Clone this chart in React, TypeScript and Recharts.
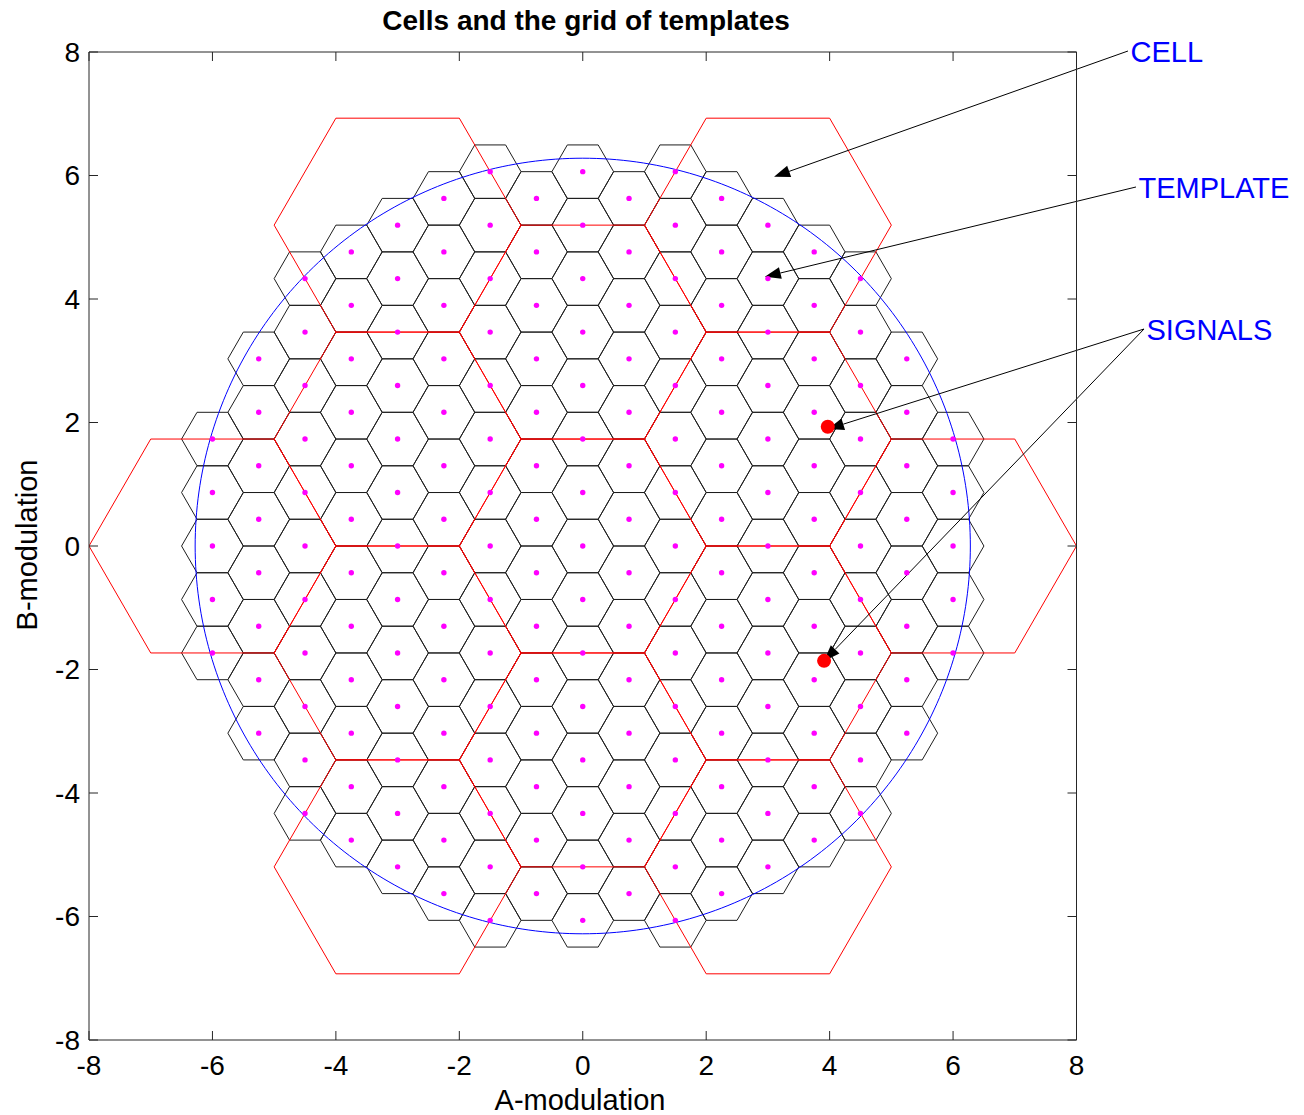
import React from 'react';
import {
  ComposedChart,
  Line,
  Scatter,
  XAxis,
  YAxis,
  ReferenceLine,
  Customized,
} from 'recharts';

// ---- plot values -------------------------------------------------------
const AXIS_TICKS = [-8, -6, -4, -2, 0, 2, 4, 6, 8];
const AXIS_DOMAIN: [number, number] = [-8, 8];

// hexagonal cells (flat-top, side length) and the coverage circle radius
const CELL_SIDE = 0.5;
const TEMPLATE_SIDE = 2;
const COVERAGE_RADIUS = 6.28;

// centres of the large template hexagons
const TEMPLATE_X = [0, 0, 0, 3, 3, -3, -3, 3, 3, -3, -3, 6, -6];
const TEMPLATE_Y = [0, 3.4641, -3.4641, 1.7321, -1.7321, 1.7321, -1.7321, 5.1962, -5.1962, 5.1962, -5.1962, 0, 0];

// received signals
const SIGNAL_X = [3.97, 3.91];
const SIGNAL_Y = [1.93, -1.86];

// callouts: label, line start, arrow tips (data units)
const CALLOUT_LABELS = ['CELL', 'TEMPLATE', 'SIGNALS'];
const CALLOUT_FROM: [number, number][] = [
  [8.834, 8.016],
  [8.964, 5.814],
  [9.094, 3.514],
];
const CALLOUT_TIPS: [number, number][][] = [
  [[3.1, 5.98]],
  [[2.95, 4.36]],
  [[3.974, 1.895], [3.909, -1.862]],
];

const TITLE = 'Cells and the grid of templates';
const X_LABEL = 'A-modulation';
const Y_LABEL = 'B-modulation';

// ---- derived geometry --------------------------------------------------
type Pt = { x: number; y: number | null };

const hexRing = (cx: number, cy: number, s: number): Pt[] =>
  Array.from({ length: 7 }, (_, k) => ({
    x: cx + s * Math.cos((k * Math.PI) / 3),
    y: cy + s * Math.sin((k * Math.PI) / 3),
  }));

const cellCenters: { x: number; y: number }[] = [];
for (let i = -10; i <= 10; i++) {
  for (let j = -12; j <= 12; j++) {
    const x = 1.5 * CELL_SIDE * i;
    const y = Math.sqrt(3) * CELL_SIDE * (j + i / 2);
    if (Math.hypot(x, y) <= COVERAGE_RADIUS) cellCenters.push({ x, y });
  }
}

const cellOutlines: Pt[] = cellCenters.flatMap((c) => [
  ...hexRing(c.x, c.y, CELL_SIDE),
  { x: c.x, y: null },
]);

const templateOutlines: Pt[] = TEMPLATE_X.flatMap((cx, i) => [
  ...hexRing(cx, TEMPLATE_Y[i], TEMPLATE_SIDE),
  { x: cx, y: null },
]);

const coverageCircle: Pt[] = Array.from({ length: 361 }, (_, k) => ({
  x: COVERAGE_RADIUS * Math.cos((k * Math.PI) / 180),
  y: COVERAGE_RADIUS * Math.sin((k * Math.PI) / 180),
}));

const signalPoints = SIGNAL_X.map((x, i) => ({ x, y: SIGNAL_Y[i] }));

// ---- styling -----------------------------------------------------------
const FONT = '"Liberation Sans", Arial, Helvetica, sans-serif';
const AXIS_COLOR = '#262626';
const HEAD_LEN = 16;
const HEAD_HALF = 6;

const CenterDot = (props: any) => {
  const { cx, cy } = props;
  if (cx == null || cy == null) return null;
  return <circle cx={cx} cy={cy} r={2.7} fill="#ff00ff" />;
};

const SignalDot = (props: any) => {
  const { cx, cy } = props;
  if (cx == null || cy == null) return null;
  return <circle cx={cx} cy={cy} r={7} fill="#ff0000" />;
};

const CalloutArrow = (props: any) => {
  const { x1, y1, x2, y2, text } = props;
  if ([x1, y1, x2, y2].some((v) => v == null || Number.isNaN(v))) return null;
  const dx = x2 - x1;
  const dy = y2 - y1;
  const len = Math.hypot(dx, dy) || 1;
  const ux = dx / len;
  const uy = dy / len;
  const bx = x2 - ux * HEAD_LEN;
  const by = y2 - uy * HEAD_LEN;
  const nx = -uy;
  const ny = ux;
  return (
    <g>
      <line x1={x1} y1={y1} x2={bx} y2={by} stroke="#000" strokeWidth={1} />
      <polygon
        points={`${x2},${y2} ${bx + nx * HEAD_HALF},${by + ny * HEAD_HALF} ${bx - nx * HEAD_HALF},${by - ny * HEAD_HALF}`}
        fill="#000"
      />
      {text ? (
        <text x={x1 + 2.5} y={y1 + 11} fill="#0000ff" fontSize={29} fontFamily={FONT}>
          {text}
        </text>
      ) : null}
    </g>
  );
};

const Titles = () => (
  <g fontFamily={FONT} fill="#000">
    <text x={586} y={30} textAnchor="middle" fontSize={28} fontWeight="bold">
      {TITLE}
    </text>
    <text x={580} y={1110} textAnchor="middle" fontSize={29}>
      {X_LABEL}
    </text>
    <text
      x={36.5}
      y={545}
      textAnchor="middle"
      fontSize={29}
      transform="rotate(-90, 36.5, 545)"
    >
      {Y_LABEL}
    </text>
  </g>
);

const tickStyle = { fill: '#000', fontSize: 28, fontFamily: FONT };
const hiddenTickStyle = { fill: 'none', fontSize: 1 };
const blankLabel = () => '';

export default function App() {
  return (
    <div style={{ position: 'absolute', left: 0, top: 0, background: '#fff' }}>
      <ComposedChart
        width={1304}
        height={1115}
        margin={{ top: 51, right: 226.5, bottom: 35, left: 29 }}
      >
        <XAxis
          xAxisId={0}
          dataKey="x"
          type="number"
          domain={AXIS_DOMAIN}
          allowDataOverflow
          ticks={AXIS_TICKS}
          interval={0}
          height={40}
          tickSize={-9}
          tickMargin={24}
          tick={tickStyle}
          stroke={AXIS_COLOR}
          axisLine={{ stroke: AXIS_COLOR }}
          tickLine={{ stroke: AXIS_COLOR }}
        />
        <XAxis
          xAxisId="top"
          orientation="top"
          dataKey="x"
          type="number"
          domain={AXIS_DOMAIN}
          allowDataOverflow
          ticks={AXIS_TICKS}
          interval={0}
          height={1}
          tickSize={-9}
          tick={hiddenTickStyle}
          tickFormatter={blankLabel}
          stroke={AXIS_COLOR}
          axisLine={{ stroke: AXIS_COLOR }}
          tickLine={{ stroke: AXIS_COLOR }}
        />
        <YAxis
          yAxisId={0}
          dataKey="y"
          type="number"
          domain={AXIS_DOMAIN}
          allowDataOverflow
          ticks={AXIS_TICKS}
          interval={0}
          width={60}
          tickSize={-9}
          tickMargin={18}
          tick={tickStyle}
          stroke={AXIS_COLOR}
          axisLine={{ stroke: AXIS_COLOR }}
          tickLine={{ stroke: AXIS_COLOR }}
        />
        <YAxis
          yAxisId="right"
          orientation="right"
          dataKey="y"
          type="number"
          domain={AXIS_DOMAIN}
          allowDataOverflow
          ticks={AXIS_TICKS}
          interval={0}
          width={1}
          tickSize={-9}
          tick={hiddenTickStyle}
          tickFormatter={blankLabel}
          stroke={AXIS_COLOR}
          axisLine={{ stroke: AXIS_COLOR }}
          tickLine={{ stroke: AXIS_COLOR }}
        />

        <Line
          data={cellOutlines}
          dataKey="y"
          type="linear"
          stroke="#1e1e1e"
          strokeWidth={1}
          dot={false}
          activeDot={false}
          connectNulls={false}
          isAnimationActive={false}
        />
        <Line
          data={templateOutlines}
          dataKey="y"
          type="linear"
          stroke="#ff0000"
          strokeWidth={1}
          dot={false}
          activeDot={false}
          connectNulls={false}
          isAnimationActive={false}
        />
        {/* the coverage circle is bound to the top/right axes so the frame axes carry a series */}
        <Line
          data={coverageCircle}
          xAxisId="top"
          yAxisId="right"
          dataKey="y"
          type="linear"
          stroke="#0000ff"
          strokeWidth={1}
          dot={false}
          activeDot={false}
          isAnimationActive={false}
        />
        <Scatter data={cellCenters} shape={<CenterDot />} isAnimationActive={false} />
        <Scatter data={signalPoints} shape={<SignalDot />} isAnimationActive={false} />

        {CALLOUT_LABELS.flatMap((label, i) =>
          CALLOUT_TIPS[i].map((tip, k) => (
            <ReferenceLine
              key={`${label}-${k}`}
              ifOverflow="visible"
              segment={[
                { x: CALLOUT_FROM[i][0], y: CALLOUT_FROM[i][1] },
                { x: tip[0], y: tip[1] },
              ]}
              shape={(p: any) => <CalloutArrow {...p} text={k === 0 ? label : ''} />}
            />
          ))
        )}

        <Customized component={Titles} />
      </ComposedChart>
    </div>
  );
}
